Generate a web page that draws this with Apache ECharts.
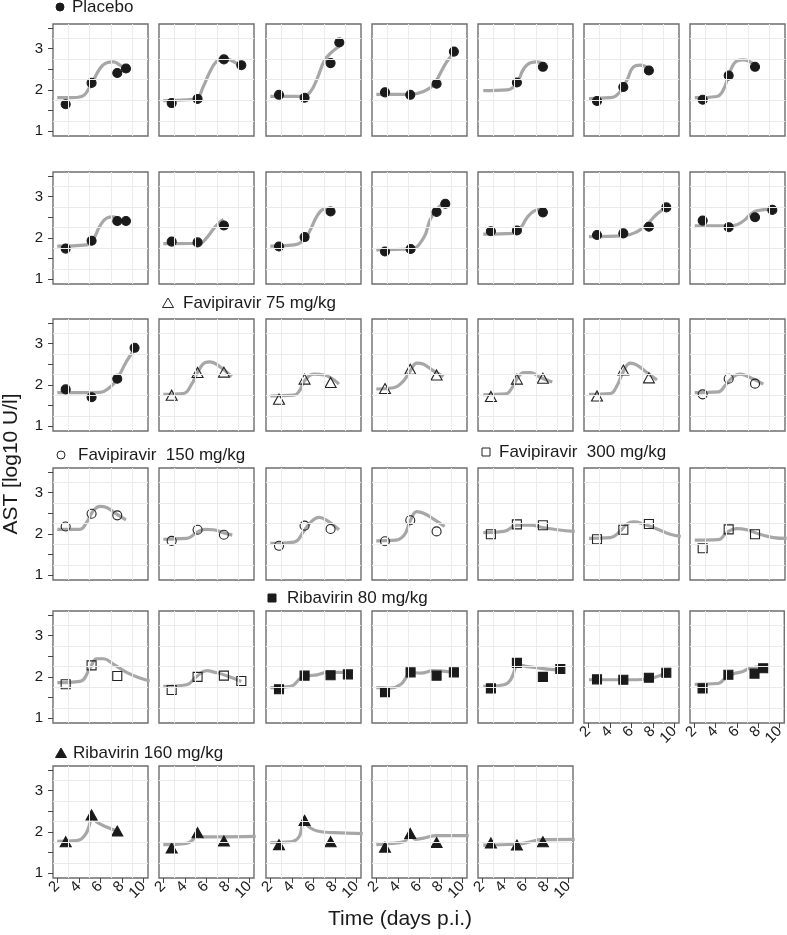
<!DOCTYPE html>
<html><head><meta charset="utf-8">
<script src="https://cdn.jsdelivr.net/npm/echarts@6/dist/echarts.min.js"></script>
<style>html,body{margin:0;padding:0;background:#fff}#c{width:787px;height:935px}</style>
</head><body><div id="c"></div><script>
// ---- axis ticks / grid
const xTicks = [2, 4, 6, 8, 10];
const yTicks = [1, 1.5, 2, 2.5, 3, 3.5];
const yLabels = [1, 2, 3];
const xGridLines = [3, 5, 7, 9];
const yGridLines = [1.25, 1.75, 2.25, 2.75, 3.25];
const groupNames = ['Placebo', 'Favipiravir 75 mg/kg', 'Favipiravir  150 mg/kg', 'Favipiravir  300 mg/kg', 'Ribavirin 80 mg/kg', 'Ribavirin 160 mg/kg'];

// ---- observations (day, log10 AST) per animal
const placeboObs = [
  [[2.78,1.65],[5.19,2.17],[7.58,2.41],[8.39,2.52]],
  [[2.78,1.68],[5.19,1.78],[7.64,2.74],[9.26,2.60]],
  [[2.81,1.88],[5.19,1.81],[7.61,2.65],[8.42,3.15]],
  [[2.81,1.94],[5.16,1.88],[7.61,2.15],[9.22,2.93]],
  [[5.22,2.18],[7.64,2.56]],
  [[2.81,1.73],[5.26,2.07],[7.64,2.47]],
  [[2.78,1.76],[5.20,2.35],[7.65,2.56]],
  [[2.78,1.74],[5.19,1.93],[7.58,2.41],[8.39,2.41]],
  [[2.78,1.91],[5.19,1.89],[7.64,2.30]],
  [[2.81,1.79],[5.19,2.02],[7.61,2.64]],
  [[2.81,1.67],[5.19,1.73],[7.61,2.63],[8.42,2.83]],
  [[2.80,2.16],[5.22,2.18],[7.64,2.62]],
  [[2.81,2.07],[5.26,2.11],[7.64,2.27],[9.26,2.74]],
  [[2.78,2.42],[5.20,2.26],[7.65,2.50],[9.26,2.68]],
  [[2.78,1.89],[5.19,1.70],[7.58,2.15],[9.19,2.90]]
];
const placeboFit = [
  [[2.0,1.81],[3.2,1.81],[4.26,1.84],[5.04,2.08],[5.97,2.52],[6.6,2.66],[7.2,2.68],[7.83,2.60],[8.39,2.50]],
  [[2.0,1.74],[4.2,1.76],[5.1,1.79],[5.72,2.08],[6.34,2.44],[6.96,2.69],[7.64,2.77],[8.5,2.69],[9.26,2.58]],
  [[2.0,1.84],[4.2,1.84],[5.13,1.85],[5.75,1.96],[6.37,2.28],[6.99,2.69],[7.61,2.89],[8.42,3.06]],
  [[2.0,1.89],[5.16,1.89],[6.4,1.96],[7.33,2.12],[7.95,2.40],[8.58,2.69],[9.22,2.89]],
  [[2.09,1.98],[4.33,2.00],[5.26,2.20],[5.87,2.52],[6.49,2.66],[7.11,2.68],[7.64,2.63]],
  [[2.06,1.79],[4.05,1.81],[4.98,1.96],[5.6,2.24],[6.22,2.56],[6.84,2.60],[7.64,2.52]],
  [[2.04,1.81],[4.08,1.84],[4.7,2.00],[5.32,2.44],[5.94,2.70],[6.56,2.73],[7.65,2.60]],
  [[2.0,1.80],[4.73,1.83],[5.35,1.97],[5.97,2.29],[6.59,2.48],[7.21,2.51],[7.67,2.46]],
  [[2.0,1.86],[5.41,1.87],[6.03,2.00],[6.65,2.21],[7.2,2.37],[7.6,2.45]],
  [[2.0,1.80],[4.2,1.83],[5.19,1.97],[5.75,2.21],[6.37,2.54],[6.99,2.70],[7.61,2.72]],
  [[2.0,1.71],[5.19,1.73],[6.4,2.00],[7.02,2.45],[7.64,2.70],[8.26,2.84]],
  [[2.09,2.09],[4.94,2.11],[5.56,2.24],[6.19,2.50],[6.8,2.65],[7.64,2.71]],
  [[2.06,2.03],[5.29,2.05],[6.53,2.15],[7.46,2.33],[8.39,2.58],[9.26,2.74]],
  [[2.04,2.29],[5.63,2.30],[6.56,2.41],[7.18,2.56],[7.8,2.66],[9.26,2.70]],
  [[2.0,1.81],[5.97,1.82],[6.9,1.94],[7.58,2.15],[8.46,2.58],[9.19,2.86]]
];
const favi75Obs = [
  [[2.78,1.75],[5.19,2.30],[7.64,2.31]],
  [[2.81,1.65],[5.19,2.14],[7.61,2.06]],
  [[2.81,1.91],[5.16,2.38],[7.61,2.24]],
  [[2.80,1.72],[5.22,2.14],[7.64,2.16]],
  [[2.81,1.73],[5.26,2.36],[7.64,2.17]]
];
const favi75Fit = [
  [[2.0,1.77],[3.86,1.79],[4.64,2.02],[5.19,2.30],[5.88,2.54],[6.34,2.56],[7.27,2.44],[8.36,2.20]],
  [[2.0,1.73],[4.2,1.75],[4.7,1.85],[5.19,2.10],[6.06,2.26],[6.99,2.24],[8.39,2.02]],
  [[2.0,1.90],[3.6,1.93],[4.54,2.10],[5.16,2.34],[5.78,2.53],[6.4,2.50],[7.33,2.34],[8.26,2.20]],
  [[2.09,1.76],[4.17,1.78],[4.79,1.94],[5.26,2.16],[5.87,2.30],[6.49,2.30],[7.42,2.18],[8.51,2.07]],
  [[2.06,1.77],[4.05,1.79],[4.67,1.98],[5.29,2.34],[5.91,2.53],[6.53,2.48],[7.46,2.30],[8.39,2.12]]
];
const favi150Obs = [
  [[2.78,1.77],[5.20,2.15],[7.65,2.03]],
  [[2.78,2.18],[5.19,2.49],[7.58,2.45]],
  [[2.78,1.83],[5.19,2.10],[7.64,1.98]],
  [[2.81,1.71],[5.19,2.20],[7.61,2.12]],
  [[2.81,1.82],[5.16,2.33],[7.61,2.06]]
];
const favi150Fit = [
  [[2.04,1.81],[4.23,1.83],[4.86,1.98],[5.63,2.20],[6.25,2.26],[7.18,2.18],[8.42,2.02]],
  [[2.0,2.11],[4.1,2.11],[4.73,2.28],[5.35,2.56],[5.97,2.67],[6.59,2.64],[7.52,2.48],[8.39,2.34]],
  [[2.0,1.87],[4.17,1.89],[5.1,2.03],[5.88,2.11],[6.65,2.10],[7.57,2.03],[8.42,1.97]],
  [[2.0,1.77],[4.2,1.80],[5.13,2.07],[5.75,2.28],[6.53,2.40],[7.3,2.32],[8.39,2.10]],
  [[2.0,1.83],[3.5,1.84],[4.54,1.95],[5.16,2.32],[5.78,2.54],[6.4,2.50],[7.33,2.36],[8.36,2.18]]
];
const favi300Obs = [
  [[2.80,1.99],[5.22,2.23],[7.64,2.21]],
  [[2.81,1.87],[5.26,2.10],[7.64,2.24]],
  [[2.78,1.65],[5.20,2.11],[7.65,1.99]],
  [[2.78,1.82],[5.19,2.28],[7.58,2.02]],
  [[2.78,1.68],[5.19,2.00],[7.64,2.03],[9.26,1.90]]
];
const favi300Fit = [
  [[2.09,2.03],[4.0,2.06],[5.26,2.21],[6.49,2.21],[7.73,2.15],[8.98,2.10],[10.6,2.06]],
  [[2.06,1.89],[4.05,1.91],[4.98,2.07],[5.6,2.24],[6.22,2.29],[7.15,2.24],[8.39,2.12],[9.63,1.99],[10.6,1.94]],
  [[2.04,1.85],[4.23,1.86],[5.01,2.03],[5.94,2.13],[6.87,2.10],[8.11,1.99],[9.35,1.91],[10.6,1.89]],
  [[2.0,1.86],[4.1,1.89],[5.04,2.21],[5.66,2.44],[6.28,2.44],[7.21,2.31],[8.45,2.11],[9.69,1.97],[10.6,1.90]],
  [[2.0,1.77],[4.17,1.81],[5.1,2.01],[6.03,2.15],[6.81,2.11],[7.89,2.03],[9.26,1.89]]
];
const riba80Obs = [
  [[2.81,1.70],[5.19,2.03],[7.61,2.04],[9.22,2.06]],
  [[2.81,1.63],[5.19,2.11],[7.61,2.03],[9.22,2.11]],
  [[2.80,1.72],[5.22,2.34],[7.64,2.00],[9.26,2.19]],
  [[2.81,1.94],[5.26,1.93],[7.64,1.98],[9.26,2.10]],
  [[2.78,1.72],[5.20,2.05],[7.65,2.08],[8.46,2.21]]
];
const riba80Fit = [
  [[2.0,1.74],[3.89,1.77],[4.82,1.97],[5.44,2.02],[6.37,2.05],[7.3,2.11],[9.22,2.11]],
  [[2.0,1.74],[3.3,1.73],[4.23,1.81],[4.85,2.01],[5.19,2.11],[6.1,2.09],[7.33,2.15],[9.22,2.11]],
  [[2.09,1.77],[4.01,1.81],[4.63,1.93],[5.1,2.25],[5.22,2.35],[5.68,2.28],[6.8,2.23],[8.04,2.19],[9.26,2.17]],
  [[2.06,1.93],[6.53,1.93],[8.08,1.98],[9.26,2.11]],
  [[2.04,1.82],[4.23,1.84],[4.86,1.95],[5.63,2.07],[6.56,2.13],[7.18,2.21],[8.46,2.25]]
];
const riba160Obs = [
  [[2.78,1.76],[5.19,2.41],[7.58,2.02]],
  [[2.78,1.61],[5.19,1.98],[7.64,1.78]],
  [[2.81,1.69],[5.19,2.28],[7.61,1.76]],
  [[2.81,1.63],[5.16,1.96],[7.61,1.74]],
  [[2.80,1.73],[5.22,1.68],[7.64,1.76]]
];
const riba160Fit = [
  [[2.0,1.77],[3.8,1.79],[4.57,1.92],[4.98,2.16],[5.19,2.37],[5.66,2.24],[6.59,2.12],[7.58,2.02]],
  [[2.0,1.69],[4.17,1.72],[4.79,1.82],[5.19,1.98],[5.72,1.88],[6.65,1.88],[10.6,1.89]],
  [[2.0,1.74],[3.89,1.76],[4.67,1.88],[5.13,2.24],[5.6,2.12],[6.37,2.02],[7.92,1.98],[10.6,1.96]],
  [[2.0,1.69],[3.3,1.72],[4.54,1.76],[5.0,1.88],[5.16,1.94],[5.63,1.82],[6.4,1.85],[7.64,1.91],[10.6,1.91]],
  [[2.09,1.68],[5.26,1.70],[6.49,1.76],[7.42,1.81],[10.6,1.82]]
];

// ---- styling / layout
const FONT = '"Liberation Sans", Arial, Helvetica, sans-serif';
const INK = '#1a1a1a';
const CURVE = '#a7a7a7';
const colLeft = [53, 159, 266, 372, 478, 584, 690];
const rowTop = [24, 172, 319, 468, 611, 766];
const PW = 95, PH = 112;
const X_MIN = 1.6, X_MAX = 10.44, Y_MIN = 0.88, Y_MAX = 3.6;
const OPEN = 'rgba(0,0,0,0)';
const symbolSpecs = [
  {symbol: 'circle', size: 9, fill: INK, stroke: INK},
  {symbol: 'triangle', size: [11, 10], fill: OPEN, stroke: '#222'},
  {symbol: 'circle', size: 9, fill: OPEN, stroke: '#222'},
  {symbol: 'rect', size: 9, fill: OPEN, stroke: '#222'},
  {symbol: 'rect', size: 9, fill: INK, stroke: INK},
  {symbol: 'triangle', size: [11, 10], fill: INK, stroke: INK}
];
const groupObs = [placeboObs, favi75Obs, favi150Obs, favi300Obs, riba80Obs, riba160Obs];
const groupFit = [placeboFit, favi75Fit, favi150Fit, favi300Fit, riba80Fit, riba160Fit];

const panels = [];
groupObs.forEach((obsList, g) => obsList.forEach((obs, i) => panels.push({obs, fit: groupFit[g][i], g})));

const grid = [], xAxis = [], yAxis = [], series = [];
panels.forEach((p, k) => {
  const r = Math.floor(k / 7), c = k % 7;
  const bottom = (r === 5) || (r === 4 && c >= 5);
  const left = c === 0;
  grid.push({left: colLeft[c], top: rowTop[r], width: PW, height: PH, show: true,
    borderColor: '#6e6e6e', borderWidth: 1.4, backgroundColor: '#fff', containLabel: false});
  xAxis.push({gridIndex: k, type: 'value', min: X_MIN, max: X_MAX,
    splitLine: {show: false}, axisLine: {show: false},
    axisTick: {show: bottom, length: 5, customValues: xTicks, lineStyle: {color: '#444', width: 1}},
    axisLabel: {show: bottom, customValues: xTicks, rotate: 45, margin: 6, fontSize: 15,
      hideOverlap: false, showMinLabel: true, showMaxLabel: true,
      fontFamily: FONT, color: INK}});
  yAxis.push({gridIndex: k, type: 'value', min: Y_MIN, max: Y_MAX,
    splitLine: {show: false}, axisLine: {show: false},
    axisTick: {show: left, length: 5, customValues: yTicks, lineStyle: {color: '#444', width: 1}},
    axisLabel: {show: left, customValues: yLabels, margin: 10, fontSize: 15,
      fontFamily: FONT, color: INK}});
  series.push({type: 'line', xAxisIndex: k, yAxisIndex: k, data: [], z: 1, silent: true,
    markLine: {silent: true, symbol: ['none', 'none'], label: {show: false}, animation: false,
      lineStyle: {color: '#ebebeb', width: 1, type: 'solid'},
      emphasis: {disabled: true},
      data: xGridLines.map(v => ({xAxis: v})).concat(yGridLines.map(v => ({yAxis: v})))}});
  series.push({type: 'line', xAxisIndex: k, yAxisIndex: k, data: p.fit, smooth: 0.45,
    showSymbol: false, z: 3, silent: true, clip: true,
    lineStyle: {color: CURVE, width: 3.2}});
  const s = symbolSpecs[p.g];
  series.push({type: 'scatter', xAxisIndex: k, yAxisIndex: k, data: p.obs, z: 4, silent: true,
    symbol: s.symbol, symbolSize: s.size,
    itemStyle: {color: s.fill, borderColor: s.stroke, borderWidth: 1.1, opacity: 1}});
});

// ---- group headers
const headerPos = [[60, 7, 72], [168, 303, 183], [61, 455, 78], [486, 452, 499], [272, 598, 287], [61, 753, 73]];
const graphic = [];
headerPos.forEach(([mx, my, tx], g) => {
  const s = symbolSpecs[g];
  const stroke = s.stroke, fill = s.fill === OPEN ? 'none' : s.fill;
  if (s.symbol === 'circle') {
    graphic.push({type: 'circle', shape: {cx: mx, cy: my, r: 4}, style: {fill, stroke, lineWidth: 1}});
  } else if (s.symbol === 'rect') {
    graphic.push({type: 'rect', shape: {x: mx - 4, y: my - 4, width: 8, height: 8}, style: {fill, stroke, lineWidth: 1}});
  } else {
    graphic.push({type: 'polygon', shape: {points: [[mx, my - 5], [mx + 5.5, my + 4.5], [mx - 5.5, my + 4.5]]}, style: {fill, stroke, lineWidth: 1}});
  }
  graphic.push({type: 'text', x: tx, y: my, style: {text: groupNames[g], fontSize: 17, fontFamily: FONT,
    fill: INK, verticalAlign: 'middle', align: 'left'}});
});
graphic.push({type: 'text', x: 400, y: 919, style: {text: 'Time (days p.i.)', fontSize: 21, fontFamily: FONT,
  fill: INK, align: 'center', verticalAlign: 'middle'}});
graphic.push({type: 'text', x: 11, y: 464, rotation: Math.PI / 2, style: {text: 'AST [log10 U/l]', fontSize: 21,
  fontFamily: FONT, fill: INK, align: 'center', verticalAlign: 'middle'}});

const chart = echarts.init(document.getElementById('c'), null, {renderer: 'canvas'});
chart.setOption({animation: false, backgroundColor: '#fff', grid, xAxis, yAxis, series, graphic});
</script></body></html>
